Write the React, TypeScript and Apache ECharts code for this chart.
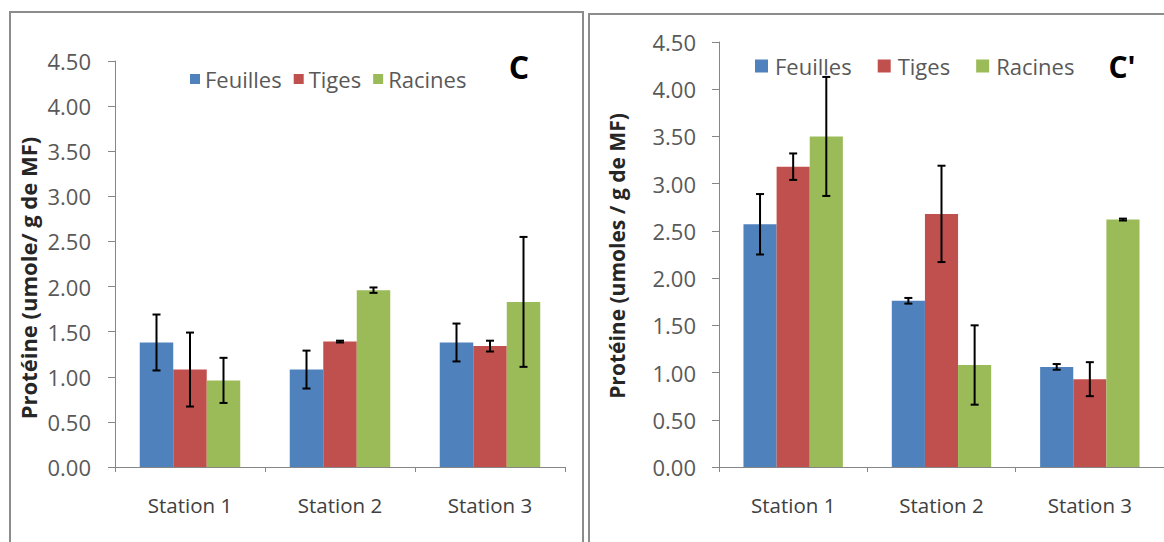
import React, { useEffect, useRef } from "react";
import * as echarts from "echarts";

const categories = ["Station 1", "Station 2", "Station 3"];
const seriesNames = ["Feuilles", "Tiges", "Racines"];
const colors = ["#4F81BD", "#C0504D", "#9BBB59"];
const yTicks = { min: 0, max: 4.5, interval: 0.5 };

// Panel C
const leftFeuilles = [1.38, 1.08, 1.38];
const leftTiges = [1.08, 1.39, 1.34];
const leftRacines = [0.96, 1.96, 1.83];
const leftFeuillesErr = [0.31, 0.21, 0.21];
const leftTigesErr = [0.41, 0.01, 0.06];
const leftRacinesErr = [0.25, 0.03, 0.72];

// Panel C'
const rightFeuilles = [2.57, 1.76, 1.06];
const rightTiges = [3.18, 2.68, 0.93];
const rightRacines = [3.5, 1.08, 2.62];
const rightFeuillesErr = [0.32, 0.03, 0.03];
const rightTigesErr = [0.14, 0.51, 0.18];
const rightRacinesErr = [0.63, 0.42, 0.01];

const FONT = "'Open Sans', 'Noto Sans', sans-serif";
const GAP = 0.33;

function errSeries(name: string, k: number, axisIdx: number, vals: number[], errs: number[]) {
  return {
    type: "custom",
    name: name + "-err",
    xAxisIndex: axisIdx,
    yAxisIndex: axisIdx,
    z: 10,
    silent: true,
    renderItem: (params: any, api: any) => {
      const ci = api.value(0);
      const v = api.value(1);
      const e = api.value(2);
      const c = api.coord([ci, v]);
      const bandW = api.size([1, 0])[0];
      const barW = (bandW * (1 - GAP)) / 3;
      const x = c[0] + (k - 1) * barW;
      const yt = api.coord([ci, v + e])[1];
      const yb = api.coord([ci, v - e])[1];
      const cap = 4;
      const st = { stroke: "#000", lineWidth: 2 };
      return {
        type: "group",
        children: [
          { type: "line", shape: { x1: x, y1: yt, x2: x, y2: yb }, style: st },
          { type: "line", shape: { x1: x - cap, y1: yt, x2: x + cap, y2: yt }, style: st },
          { type: "line", shape: { x1: x - cap, y1: yb, x2: x + cap, y2: yb }, style: st },
        ],
      };
    },
    data: vals.map((v, i) => [i, v, errs[i]]),
  };
}

function barSeries(name: string, k: number, axisIdx: number, vals: number[]) {
  return {
    type: "bar",
    name,
    xAxisIndex: axisIdx,
    yAxisIndex: axisIdx,
    barGap: "0%",
    barCategoryGap: GAP * 100 + "%",
    itemStyle: { color: colors[k] },
    data: vals,
  };
}

function xAxis(gridIndex: number) {
  return {
    type: "category",
    gridIndex,
    data: categories,
    axisLine: { lineStyle: { color: "#868686", width: 1 } },
    axisTick: { show: true, length: 5, lineStyle: { color: "#868686" } },
    axisLabel: { color: "#404040", fontSize: 20.5, fontFamily: FONT, margin: 27 },
  };
}

function yAxis(gridIndex: number, margin: number) {
  return {
    type: "value",
    gridIndex,
    min: yTicks.min,
    max: yTicks.max,
    interval: yTicks.interval,
    splitLine: { show: false },
    axisLine: { show: true, lineStyle: { color: "#868686", width: 1 } },
    axisTick: { show: true, length: 7, lineStyle: { color: "#868686" } },
    axisLabel: {
      color: "#595959",
      fontSize: 22,
      fontFamily: FONT,
      margin,
      formatter: (v: number) => v.toFixed(2),
    },
  };
}

export default function App() {
  const ref = useRef<HTMLDivElement>(null);
  useEffect(() => {
    if (!ref.current) return;
    const chart = echarts.init(ref.current, null, { renderer: "svg" });
    chart.setOption({
      animation: false,
      backgroundColor: "#ffffff",
      grid: [
        { left: 115, top: 61, width: 450, height: 406 },
        { left: 719, top: 42, width: 453, height: 425 },
      ],
      xAxis: [xAxis(0), xAxis(1)],
      yAxis: [yAxis(0, 24), yAxis(1, 23)],
      legend: [
        {
          left: 185,
          top: 63,
          itemWidth: 10,
          itemHeight: 10,
          itemGap: 12,
          icon: "rect",
          data: seriesNames,
          textStyle: { color: "#595959", fontSize: 22, fontFamily: FONT, padding: [0, 0, 0, 0] },
        },
        {
          left: 750,
          top: 50,
          itemWidth: 13,
          itemHeight: 13,
          itemGap: 26,
          icon: "rect",
          data: seriesNames,
          textStyle: { color: "#595959", fontSize: 22, fontFamily: FONT, padding: [0, 0, 0, 2] },
        },
      ],
      graphic: [
        {
          type: "rect",
          shape: { x: 10, y: 12, width: 573, height: 560 },
          style: { fill: "none", stroke: "#8c8c8c", lineWidth: 2 },
          silent: true,
        },
        {
          type: "rect",
          shape: { x: 589, y: 14, width: 600, height: 560 },
          style: { fill: "none", stroke: "#8c8c8c", lineWidth: 2 },
          silent: true,
        },
        {
          type: "text",
          x: 519,
          y: 66,
          style: {
            text: "C",
            fontSize: 32,
            fontWeight: "bold",
            fontFamily: FONT,
            fill: "#000",
            textAlign: "center",
            textVerticalAlign: "middle",
          },
        },
        {
          type: "text",
          x: 1122,
          y: 66,
          style: {
            text: "C'",
            fontSize: 30,
            fontWeight: "bold",
            fontFamily: FONT,
            fill: "#000",
            textAlign: "center",
            textVerticalAlign: "middle",
          },
        },
        {
          type: "text",
          x: 28,
          y: 278,
          rotation: Math.PI / 2,
          style: {
            text: "Protéine (umole/ g de MF)",
            fontSize: 22,
            fontWeight: "bold",
            fontFamily: FONT,
            fill: "#262626",
            textAlign: "center",
            textVerticalAlign: "middle",
          },
        },
        {
          type: "text",
          x: 617,
          y: 256,
          rotation: Math.PI / 2,
          style: {
            text: "Protéine (umoles / g de MF)",
            fontSize: 21,
            fontWeight: "bold",
            fontFamily: FONT,
            fill: "#262626",
            textAlign: "center",
            textVerticalAlign: "middle",
          },
        },
      ],
      series: [
        barSeries("Feuilles", 0, 0, leftFeuilles),
        barSeries("Tiges", 1, 0, leftTiges),
        barSeries("Racines", 2, 0, leftRacines),
        barSeries("Feuilles", 0, 1, rightFeuilles),
        barSeries("Tiges", 1, 1, rightTiges),
        barSeries("Racines", 2, 1, rightRacines),
        errSeries("Feuilles", 0, 0, leftFeuilles, leftFeuillesErr),
        errSeries("Tiges", 1, 0, leftTiges, leftTigesErr),
        errSeries("Racines", 2, 0, leftRacines, leftRacinesErr),
        errSeries("Feuilles", 0, 1, rightFeuilles, rightFeuillesErr),
        errSeries("Tiges", 1, 1, rightTiges, rightTigesErr),
        errSeries("Racines", 2, 1, rightRacines, rightRacinesErr),
      ],
    });
    return () => chart.dispose();
  }, []);
  return (
    <div
      ref={ref}
      style={{ position: "fixed", left: 0, top: 0, width: 1164, height: 542, background: "#fff" }}
    />
  );
}
